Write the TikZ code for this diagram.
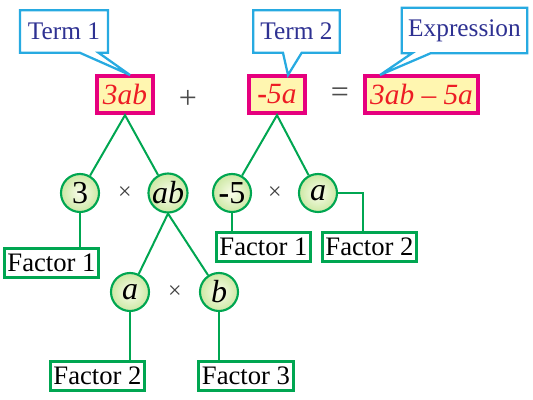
\documentclass[tikz,border=0pt]{standalone}
\usepackage{fontspec}
\setmainfont{Liberation Serif}
\usetikzlibrary{shapes.callouts}
\definecolor{termpink}{HTML}{E6007E}
\definecolor{termfill}{HTML}{FFF6B0}
\definecolor{termred}{HTML}{ED1C24}
\definecolor{callcyan}{HTML}{27AAE1}
\definecolor{callblue}{HTML}{2E3192}
\definecolor{treegreen}{HTML}{00A651}
\definecolor{ballin}{HTML}{FAFDEB}
\definecolor{ballout}{HTML}{CDE8A4}
\begin{document}
\begin{tikzpicture}[x=0.75pt, y=-0.75pt,
    termbox/.style={draw=termpink, line width=3pt, fill=termfill, text=termred,
        font=\fontsize{22}{22}\selectfont\itshape, minimum height=28pt, inner sep=2pt},
    callbox/.style={rectangle callout, draw=callcyan, line width=1.7pt, fill=white,
        text=callblue, font=\fontsize{19}{19}\selectfont, minimum height=32pt,
        callout pointer width=14pt},
    ball/.style={circle, draw=treegreen, line width=1.6pt, inner color=ballin,
        outer color=ballout, minimum size=28.5pt, inner sep=0pt,
        font=\fontsize{24}{24}\selectfont},
    factbox/.style={draw=treegreen, line width=2.2pt, fill=white,
        font=\fontsize{20}{20}\selectfont, minimum width=71pt, minimum height=22pt,
        inner sep=1pt},
    branch/.style={treegreen, line width=1.5pt},
    sign/.style={text=black!70, font=\fontsize{24}{24}\selectfont},
    times/.style={text=black!75, font=\fontsize{18}{18}\selectfont}]
  \useasboundingbox (0,0) rectangle (533,400);

  % Terms
  \node[termbox, minimum width=42pt] (t1) at (125,94.5) {3ab};
  \node[termbox, minimum width=42pt] (t2) at (277,94.5) {{\upshape\bfseries -}5a};
  \node[termbox, minimum width=85pt] (ex) at (421.5,94.5) {3ab {\upshape --} 5a};
  \node[sign] (plus) at (188,99) {+};
  \node[sign] (equal) at (340,95) {=};

  % Callouts
  \node[callbox, minimum width=66pt, callout absolute pointer={(130,75)}] (call1) at (64,31.5) {Term 1};
  \node[callbox, minimum width=65pt, callout absolute pointer={(288,75)}] (call2) at (296.5,31.5) {Term 2};
  \node[callbox, minimum width=94pt, minimum height=34pt, callout absolute pointer={(380,75)}] (call3) at (464.5,30.5) {Expression};

  % Factors of the terms
  \node[ball] (n3) at (80,193) {3};
  \node[times] (x1) at (125,193) {×};
  \node[ball] (nab) at (168,193) {\itshape ab};
  \node[ball] (n5) at (232,193) {{\bfseries -}5};
  \node[times] (x2) at (275,193) {×};
  \node[ball] (na) at (318,193) {\itshape a};

  \node[ball] (na2) at (130,292) {\itshape a};
  \node[times] (x3) at (175,292) {×};
  \node[ball] (nb) at (219,292) {\itshape b};

  % Labels
  \node[factbox] (fac1a) at (51.5,263) {Factor 1};
  \node[factbox] (fac1b) at (263.5,247) {Factor 1};
  \node[factbox] (fac2a) at (369.5,247) {Factor 2};
  \node[factbox] (fac2b) at (97.5,376) {Factor 2};
  \node[factbox] (fac3) at (246,376) {Factor 3};

  % Branches
  \draw[branch] (n3) -- (t1.south) -- (nab);
  \draw[branch] (n5) -- (t2.south) -- (na);
  \draw[branch] (na2) -- (nab.south) -- (nb);
  \draw[branch] (n3.south) -- (n3.south |- fac1a.north);
  \draw[branch] (n5.south) -- (n5.south |- fac1b.north);
  \draw[branch] (na.east) -| ([xshift=-5pt]fac2a.north);
  \draw[branch] (na2.south) -- (na2.south |- fac2b.north);
  \draw[branch] (nb.south) -- (nb.south |- fac3.north);
\end{tikzpicture}
\end{document}
